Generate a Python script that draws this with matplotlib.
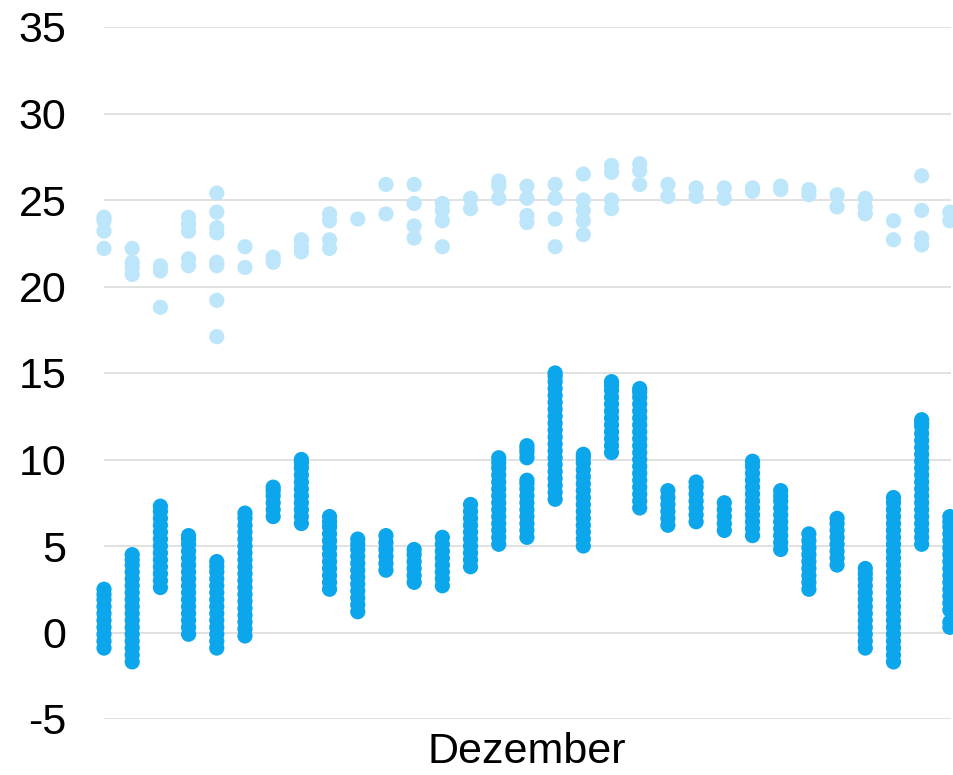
import matplotlib
matplotlib.use("Agg")
import matplotlib.pyplot as plt

days = list(range(1, 32))

# light blue series, a few readings per day
upper = [
    [24.0, 23.8, 23.2, 22.2],
    [22.2, 21.4, 21.1, 20.7],
    [21.2, 20.9, 18.8],
    [24.0, 23.6, 23.2, 21.6, 21.2],
    [25.4, 24.3, 23.4, 23.1, 21.4, 21.2, 19.2, 17.1],
    [22.3, 21.1],
    [21.7, 21.4],
    [22.7, 22.3, 22.0],
    [24.2, 23.8, 22.7, 22.2],
    [23.9],
    [25.9, 24.2],
    [25.9, 24.8, 23.5, 22.8],
    [24.8, 24.4, 23.8, 22.3],
    [25.1, 24.5],
    [26.1, 25.8, 25.1],
    [25.8, 25.1, 24.1, 23.7],
    [25.9, 25.1, 23.9, 22.3],
    [26.5, 25.0, 24.4, 23.8, 23.0],
    [27.0, 26.6, 25.0, 24.5],
    [27.1, 26.7, 25.9],
    [25.9, 25.2],
    [25.7, 25.2],
    [25.7, 25.1],
    [25.7, 25.5],
    [25.8, 25.6],
    [25.6, 25.3],
    [25.3, 24.6],
    [25.1, 24.6, 24.2],
    [23.8, 22.7],
    [26.4, 24.4, 22.8, 22.4],
    [24.3, 23.8],
]

# dark blue series, dense readings per day
lower = [
    [-0.9, -0.5, -0.1, 0.3, 0.7, 1.1, 1.5, 1.9, 2.2, 2.5],
    [-1.7, -1.3, -0.9, -0.5, -0.1, 0.3, 0.7, 1.1, 1.5, 1.9, 2.3, 2.7, 3.1, 3.5, 3.9, 4.2, 4.5],
    [2.6, 3.0, 3.4, 3.8, 4.2, 4.6, 5.0, 5.4, 5.8, 6.2, 6.6, 7.0, 7.3],
    [-0.1, 0.3, 0.7, 1.1, 1.5, 1.9, 2.3, 2.7, 3.1, 3.5, 3.9, 4.3, 4.7, 5.1, 5.4, 5.6],
    [-0.9, -0.5, -0.1, 0.3, 0.7, 1.1, 1.5, 1.9, 2.3, 2.7, 3.1, 3.5, 3.8, 4.1],
    [-0.2, 0.2, 0.6, 1.0, 1.4, 1.8, 2.2, 2.6, 3.0, 3.4, 3.8, 4.2, 4.6, 5.0, 5.4, 5.8, 6.2, 6.6, 6.9],
    [6.7, 7.1, 7.5, 7.9, 8.2, 8.4],
    [6.3, 6.7, 7.1, 7.5, 7.9, 8.3, 8.7, 9.1, 9.5, 9.8, 10.0],
    [2.5, 2.9, 3.3, 3.7, 4.1, 4.5, 4.9, 5.3, 5.7, 6.1, 6.4, 6.7],
    [1.2, 1.6, 2.0, 2.4, 2.8, 3.2, 3.6, 4.0, 4.4, 4.8, 5.1, 5.4],
    [3.6, 4.0, 4.4, 4.8, 5.2, 5.6],
    [2.9, 3.3, 3.7, 4.1, 4.5, 4.8],
    [2.7, 3.1, 3.5, 3.9, 4.3, 4.7, 5.1, 5.5],
    [3.8, 4.2, 4.6, 5.0, 5.4, 5.8, 6.2, 6.6, 7.0, 7.4],
    [5.1, 5.5, 5.9, 6.3, 6.7, 7.1, 7.5, 7.9, 8.3, 8.7, 9.1, 9.5, 9.8, 10.1],
    [5.5, 5.9, 6.3, 6.7, 7.1, 7.5, 7.9, 8.3, 8.6, 8.8, 10.1, 10.4, 10.6, 10.8],
    [7.7, 8.1, 8.5, 8.9, 9.3, 9.7, 10.1, 10.5, 10.9, 11.3, 11.7, 12.1, 12.5, 12.9,
     13.3, 13.7, 14.1, 14.5, 14.8, 15.0],
    [5.0, 5.4, 5.8, 6.2, 6.6, 7.0, 7.4, 7.8, 8.2, 8.6, 9.0, 9.4, 9.8, 10.1, 10.3],
    [10.4, 10.8, 11.2, 11.6, 12.0, 12.4, 12.8, 13.2, 13.6, 14.0, 14.3, 14.5],
    [7.2, 7.6, 8.0, 8.4, 8.8, 9.2, 9.6, 10.0, 10.4, 10.8, 11.2, 11.6, 12.0, 12.4,
     12.8, 13.2, 13.6, 13.9, 14.1],
    [6.2, 6.6, 7.0, 7.4, 7.8, 8.2],
    [6.4, 6.8, 7.2, 7.6, 8.0, 8.4, 8.7],
    [5.9, 6.3, 6.7, 7.1, 7.5],
    [5.6, 6.0, 6.4, 6.8, 7.2, 7.6, 8.0, 8.4, 8.8, 9.2, 9.6, 9.9],
    [4.8, 5.2, 5.6, 6.0, 6.4, 6.8, 7.2, 7.6, 7.9, 8.2],
    [2.5, 2.9, 3.3, 3.7, 4.1, 4.5, 4.9, 5.3, 5.7],
    [3.9, 4.3, 4.7, 5.1, 5.5, 5.9, 6.3, 6.6],
    [-0.9, -0.5, -0.1, 0.3, 0.7, 1.1, 1.5, 1.9, 2.3, 2.7, 3.1, 3.4, 3.7],
    [-1.7, -1.3, -0.9, -0.5, -0.1, 0.3, 0.7, 1.1, 1.5, 1.9, 2.3, 2.7, 3.1, 3.5,
     3.9, 4.3, 4.7, 5.1, 5.5, 5.9, 6.3, 6.7, 7.1, 7.5, 7.8],
    [5.1, 5.5, 5.9, 6.3, 6.7, 7.1, 7.5, 7.9, 8.3, 8.7, 9.1, 9.5, 9.9, 10.3, 10.7,
     11.1, 11.5, 11.9, 12.1, 12.3],
    [0.3, 0.6, 1.3, 1.7, 2.1, 2.5, 2.9, 3.3, 3.7, 4.1, 4.5, 4.9, 5.3, 5.7, 6.1, 6.4, 6.7],
]

yticks = [-5, 0, 5, 10, 15, 20, 25, 30, 35]
month_label = "Dezember"

plt.rcParams["font.family"] = ["Liberation Sans", "DejaVu Sans"]

fig = plt.figure(figsize=(9.54, 7.75), dpi=100)
ax = fig.add_axes([104 / 954, 56 / 775, 847 / 954, 692 / 775])

def flatten(groups):
    xs, ys = [], []
    for d, vals in zip(days, groups):
        xs += [d] * len(vals)
        ys += vals
    return xs, ys

ux, uy = flatten(upper)
lx, ly = flatten(lower)
ax.scatter(ux, uy, s=120, color="#bde6fa", edgecolors="none", clip_on=False, zorder=3)
ax.scatter(lx, ly, s=120, color="#0ba6eb", edgecolors="none", clip_on=False, zorder=3)

ax.set_xlim(1, 31.04)
ax.set_ylim(-5, 35)
ax.set_yticks(yticks)
ax.set_yticklabels([str(v) for v in yticks])
ax.set_xticks([16])
ax.set_xticklabels([month_label])
ax.tick_params(axis="both", length=0, labelsize=31, colors="black")
ax.tick_params(axis="y", pad=27)
ax.tick_params(axis="x", pad=9.5)
ax.grid(axis="y", color="#d9d9d9", linewidth=1.1)
ax.set_axisbelow(True)
for sp in ax.spines.values():
    sp.set_visible(False)

fig.savefig("out.png", dpi=100)
